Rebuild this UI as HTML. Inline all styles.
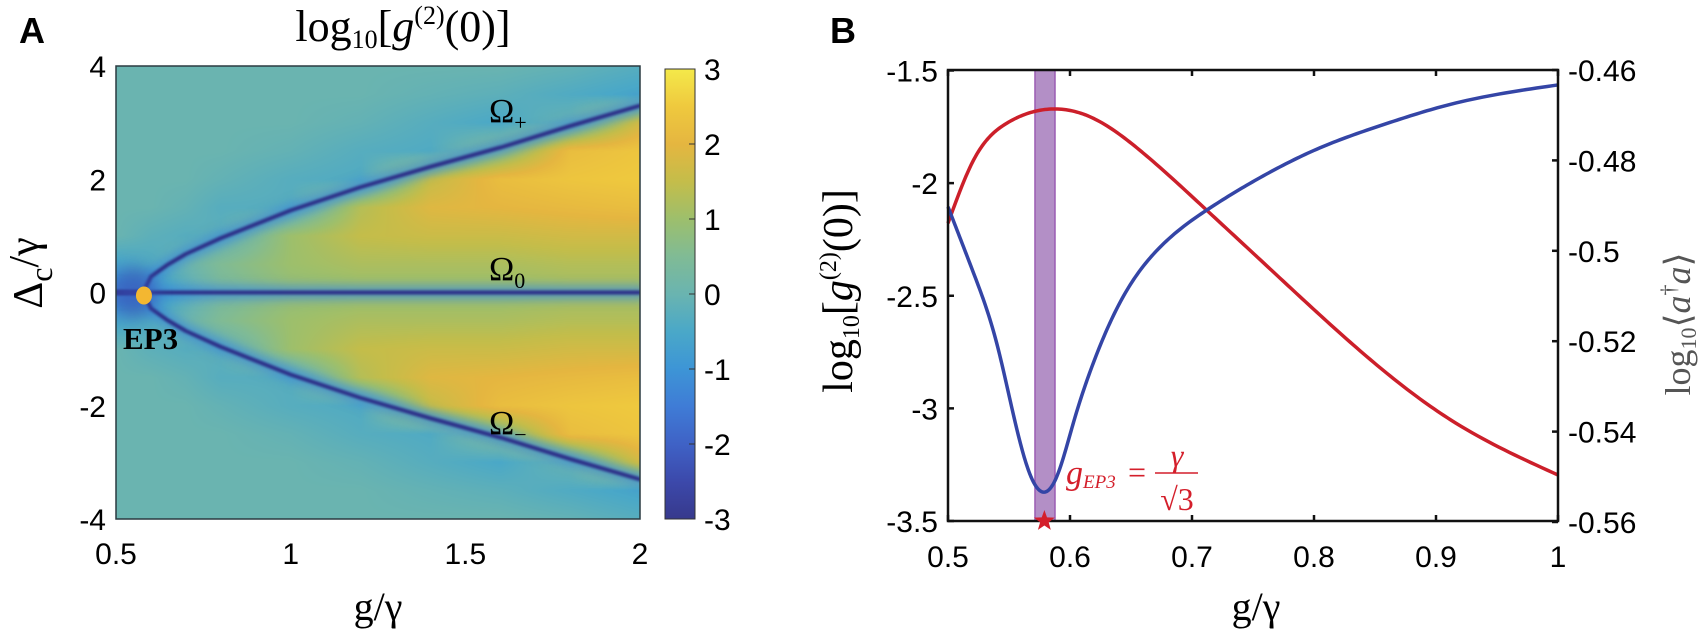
<!DOCTYPE html>
<html><head><meta charset="utf-8">
<style>
html,body{margin:0;padding:0;background:#fff;}
#wrap{position:relative;width:1705px;height:632px;overflow:hidden;}
#heat{position:absolute;left:116px;top:66px;}
svg{position:absolute;left:0;top:0;}
text{font-family:"Liberation Sans",sans-serif;}
.serif{font-family:"Liberation Serif",serif;}
</style></head>
<body>
<div id="wrap">
<canvas id="heat" width="524" height="453"></canvas>
<svg id="svg" width="1705" height="632">
  <defs>
    <linearGradient id="cbgrad" x1="0" y1="1" x2="0" y2="0"></linearGradient>
  </defs>
  <text x="19" y="43" font-size="36" font-weight="bold">A</text>
  <text class="serif" x="403" y="41" font-size="44" text-anchor="middle">log<tspan font-size="26" dy="7">10</tspan><tspan dy="-7">[</tspan><tspan font-style="italic">g</tspan><tspan font-size="26" dy="-17">(2)</tspan><tspan dy="17">(0)]</tspan></text>
  <rect x="116" y="66" width="524" height="453" fill="none" stroke="#2a3a40" stroke-width="1.5"/>
  <g id="axA"></g>
  <text class="serif" transform="translate(42,273) rotate(-90)" font-size="42" text-anchor="middle">Δ<tspan font-size="32" dy="10">c</tspan><tspan dy="-14">/γ</tspan></text>
  <text class="serif" x="378" y="620" font-size="40" text-anchor="middle">g/γ</text>
  <text class="serif" x="489" y="122" font-size="34">Ω<tspan font-size="22" dy="8">+</tspan></text>
  <text class="serif" x="489" y="280" font-size="34">Ω<tspan font-size="22" dy="8">0</tspan></text>
  <text class="serif" x="489" y="434" font-size="34">Ω<tspan font-size="22" dy="8">−</tspan></text>
  <ellipse id="epdot" cx="149" cy="296" rx="8" ry="9" fill="#f3b731"/>
  <text class="serif" x="123" y="349" font-size="31" font-weight="bold">EP3</text>
  <rect x="665" y="69" width="30" height="450" fill="url(#cbgrad)" stroke="#333" stroke-width="1"/>
  <g id="cbticks"></g>
  <text x="830" y="43" font-size="36" font-weight="bold">B</text>
  <rect id="band" x="1035" y="70" width="20" height="451" fill="#b38fc6" stroke="#9b5db3" stroke-width="1.5"/>
  <g id="axB"></g>
  <g id="linesB"></g>
  <rect x="948" y="70" width="610" height="451" fill="none" stroke="#111" stroke-width="2.5"/>
  <text class="serif" transform="translate(852,291) rotate(-90)" font-size="42" text-anchor="middle">log<tspan font-size="24" dy="7">10</tspan><tspan dy="-7">[</tspan><tspan font-style="italic">g</tspan><tspan font-size="24" dy="-16">(2)</tspan><tspan dy="16">(0)]</tspan></text>
  <text class="serif" transform="translate(1690,324) rotate(-90)" font-size="36" fill="#555" text-anchor="middle">log<tspan font-size="22" dy="6">10</tspan><tspan dy="-6">⟨</tspan><tspan font-style="italic">a</tspan><tspan font-size="22" dy="-14">†</tspan><tspan dy="14" font-style="italic">a</tspan>⟩</text>
  <text class="serif" x="1256" y="620" font-size="40" text-anchor="middle">g/γ</text>
  <g fill="#d41f2b">
    <text class="serif" x="1066" y="484" font-size="34" font-style="italic" fill="#d41f2b">g<tspan font-size="19" dy="4">EP3</tspan></text>
    <text class="serif" x="1128" y="483" font-size="32" fill="#d41f2b">=</text>
    <line x1="1155" y1="473" x2="1198" y2="473" stroke="#d41f2b" stroke-width="1.5"/>
    <text class="serif" x="1177" y="466" font-size="32" font-style="italic" text-anchor="middle" fill="#d41f2b">γ</text>
    <text class="serif" x="1177" y="510" font-size="32" text-anchor="middle" fill="#d41f2b">√3</text>
  </g>
  <polygon id="star" fill="#d41f2b"/>
</svg>
</div>
<script>
// ---------- Panel A data ----------
const gCols = [0.5,0.6,0.7,0.8,1.0,1.2,1.4,1.6,1.8,2.0];
const deltaRows = [0,0.5,1,1.5,2,2.5,3,3.5,4];
const row0   = [-1.4,-1.0,-0.3,0.3,0.8,0.9,0.9,0.9,1.0,1.0];
const row05  = [-0.6,-0.4,0.0,0.5,1.0,1.2,1.2,1.2,1.3,1.3];
const row1   = [0,-0.2,-0.3,-0.2,1.0,1.5,1.6,1.6,1.7,1.7];
const row15  = [0,0,-0.1,-0.3,-0.3,1.3,1.9,2.0,2.1,2.2];
const row2   = [0,0,0,-0.1,-0.3,-0.4,1.5,2.2,2.4,2.5];
const row25  = [0,0,0,0,-0.1,-0.3,-0.4,0.6,2.2,2.4];
const row3   = [0,0,0,0,0,-0.1,-0.3,-0.5,0.0,1.7];
const row35  = [0,0,0,0,0,0,-0.1,-0.2,-0.4,-0.6];
const row4   = [0,0,0,0,0,0,0,0,-0.1,-0.3];
const ridgeG = [0.577,0.6,0.65,0.7,0.8,1.0,1.2,1.4,1.6,1.8,2.0];
const ridgeOmega = [0,0.28,0.5,0.68,0.96,1.45,1.86,2.22,2.56,2.94,3.3];
const ep3G = 0.58;
const heatXTicks = [0.5,1,1.5,2];
const heatXTickLabels = ["0.5","1","1.5","2"];
const heatYTicks = [4,2,0,-2,-4];
const heatYTickLabels = ["4","2","0","-2","-4"];
const cbTicks = [3,2,1,0,-1,-2,-3];
const cbTickLabels = ["3","2","1","0","-1","-2","-3"];
const cmapVals = [-3,-2.5,-2,-1.5,-1,-0.5,0,0.5,1,1.5,2,2.5,3];
const cmapCols = ["#37398c","#3c49ab","#3f62c6","#3f7cd6","#3d95d6","#4aa8c8","#6ab4b0","#80bb95","#9dbf6c","#c4bd4a","#e5b640","#efc93e","#f4e94a"];

// ---------- Panel B data ----------
const blueG = [0.5,0.521,0.54,0.556,0.567,0.579,0.589,0.603,0.619,0.644,0.671,0.712,0.756,0.802,0.857,0.912,1.0];
const blueVal = [-2.105,-2.40,-2.712,-3.083,-3.29,-3.372,-3.305,-3.06,-2.80,-2.50,-2.30,-2.12,-1.975,-1.85,-1.74,-1.65,-1.564];
const redG = [0.5,0.521,0.548,0.581,0.616,0.657,0.712,0.756,0.802,0.857,0.912,1.0];
const redVal = [-0.4939,-0.4799,-0.4718,-0.4687,-0.4703,-0.4777,-0.491,-0.502,-0.5135,-0.5265,-0.5374,-0.5496];
const bXTicks = [0.5,0.6,0.7,0.8,0.9,1];
const bXTickLabels = ["0.5","0.6","0.7","0.8","0.9","1"];
const bLeftTicks = [-1.5,-2,-2.5,-3,-3.5];
const bLeftTickLabels = ["-1.5","-2","-2.5","-3","-3.5"];
const bRightTicks = [-0.46,-0.48,-0.5,-0.52,-0.54,-0.56];
const bRightTickLabels = ["-0.46","-0.48","-0.5","-0.52","-0.54","-0.56"];
const bandG = [0.5713,0.5877];
const starG = 0.579;

const NS = "http://www.w3.org/2000/svg";
function mk(tag, attrs, parent){const e=document.createElementNS(NS,tag);for(const k in attrs)e.setAttribute(k,attrs[k]);parent.appendChild(e);return e;}

const hx = g => 116 + (g-0.5)/1.5*524;
const hy = d => 66 + (4-d)/8*453;
const cy = v => 69 + (3-v)/6*450;

function hex(c){return [parseInt(c.substr(1,2),16),parseInt(c.substr(3,2),16),parseInt(c.substr(5,2),16)];}
const cmapRGB = cmapCols.map(hex);
function cmap(v){
  if(v<=cmapVals[0]) return cmapRGB[0];
  for(let i=0;i<cmapVals.length-1;i++){
    if(v<=cmapVals[i+1]){const t=(v-cmapVals[i])/(cmapVals[i+1]-cmapVals[i]);const a=cmapRGB[i],b=cmapRGB[i+1];return [a[0]+(b[0]-a[0])*t,a[1]+(b[1]-a[1])*t,a[2]+(b[2]-a[2])*t];}
  }
  return cmapRGB[cmapRGB.length-1];
}
const rows=[row0,row05,row1,row15,row2,row25,row3,row35,row4];
function idx(arr,v){let i=0;while(i<arr.length-2&&v>arr[i+1])i++;let t=(v-arr[i])/(arr[i+1]-arr[i]);t=Math.max(0,Math.min(1,t));return [i,t];}
function field(g,d){
  const [i,ti]=idx(gCols,g);const [j,tj]=idx(deltaRows,Math.abs(d));
  const a=rows[j][i]*(1-ti)+rows[j][i+1]*ti;
  const b=rows[j+1][i]*(1-ti)+rows[j+1][i+1]*ti;
  return a*(1-tj)+b*tj;
}
const cv=document.getElementById('heat');const ctx=cv.getContext('2d');
const img=ctx.createImageData(524,453);
for(let py=0;py<453;py++){const d=4-(py+0.5)/453*8;
  for(let px=0;px<524;px++){const g=0.5+(px+0.5)/524*1.5;const c=cmap(field(g,d));const k=(py*524+px)*4;
    img.data[k]=c[0];img.data[k+1]=c[1];img.data[k+2]=c[2];img.data[k+3]=255;}}
ctx.putImageData(img,0,0);
function ridgePath(sign){
  ctx.beginPath();
  ctx.moveTo(hx(0.5)-116,hy(0)-66);
  for(let i=0;i<ridgeG.length;i++) ctx.lineTo(hx(ridgeG[i])-116,hy(sign*ridgeOmega[i])-66);
}
function zeroPath(){ctx.beginPath();ctx.moveTo(0,hy(0)-66);ctx.lineTo(524,hy(0)-66);}
ctx.lineJoin='round';ctx.lineCap='round';
ctx.save();ctx.filter='blur(5px)';
[()=>ridgePath(1),()=>ridgePath(-1),zeroPath].forEach(f=>{f();ctx.strokeStyle='rgba(62,140,215,0.7)';ctx.lineWidth=14;ctx.stroke();});
ctx.restore();
ctx.save();ctx.filter='blur(1.2px)';
[()=>ridgePath(1),()=>ridgePath(-1),zeroPath].forEach(f=>{f();ctx.strokeStyle='#2d2f88';ctx.lineWidth=4;ctx.stroke();});
ctx.restore();
ctx.save();ctx.filter='blur(8px)';ctx.fillStyle='rgba(55,80,180,0.6)';ctx.beginPath();ctx.ellipse(hx(0.55)-116,hy(0)-66,22,26,0,0,Math.PI*2);ctx.fill();ctx.restore();

const epdot=document.getElementById('epdot');epdot.setAttribute('cx',hx(ep3G));epdot.setAttribute('cy',hy(0)+3);

const axA=document.getElementById('axA');
heatXTicks.forEach((g,i)=>{const t=mk('text',{x:hx(g),y:564,'font-size':30,'text-anchor':'middle'},axA);t.textContent=heatXTickLabels[i];
  
  });
heatYTicks.forEach((d,i)=>{const t=mk('text',{x:106,y:hy(d)+11,'font-size':30,'text-anchor':'end'},axA);t.textContent=heatYTickLabels[i];
  
  });
const grad=document.getElementById('cbgrad');
cmapVals.forEach((v,i)=>{mk('stop',{offset:((v+3)/6),'stop-color':cmapCols[i]},grad);});
const cbt=document.getElementById('cbticks');
cbTicks.forEach((v,i)=>{mk('line',{x1:689,x2:695,y1:cy(v),y2:cy(v),stroke:'#333','stroke-width':1},cbt);
  const t=mk('text',{x:704,y:cy(v)+11,'font-size':30},cbt);t.textContent=cbTickLabels[i];
  
  });

const bx = g => 948 + (g-0.5)/0.5*610;
const byL = v => 70.5 + (-1.5-v)/2*450.5;
const byR = v => 70 + (-0.46-v)/0.1*452;
const axB=document.getElementById('axB');
bXTicks.forEach((g,i)=>{
  mk('line',{x1:bx(g),x2:bx(g),y1:521,y2:515,stroke:'#111','stroke-width':2.5},axB);
  mk('line',{x1:bx(g),x2:bx(g),y1:70,y2:76,stroke:'#111','stroke-width':2.5},axB);
  const t=mk('text',{x:bx(g),y:567,'font-size':30,'text-anchor':'middle'},axB);t.textContent=bXTickLabels[i];
  
  });
bLeftTicks.forEach((v,i)=>{
  mk('line',{x1:948,x2:954,y1:byL(v),y2:byL(v),stroke:'#111','stroke-width':2.5},axB);
  const t=mk('text',{x:938,y:byL(v)+11,'font-size':30,'text-anchor':'end'},axB);t.textContent=bLeftTickLabels[i];
  
  });
bRightTicks.forEach((v,i)=>{
  mk('line',{x1:1552,x2:1558,y1:byR(v),y2:byR(v),stroke:'#111','stroke-width':2.5},axB);
  const t=mk('text',{x:1568,y:byR(v)+11,'font-size':30},axB);t.textContent=bRightTickLabels[i];
  
  });
const band=document.getElementById('band');band.setAttribute('x',bx(bandG[0]));band.setAttribute('width',bx(bandG[1])-bx(bandG[0]));

function splinePath(xs, ys, X, Y){
  const n=xs.length, h=[], al=[], l=[1], mu=[0], z=[0], c=new Array(n).fill(0), b=[], d=[];
  for(let i=0;i<n-1;i++) h.push(xs[i+1]-xs[i]);
  for(let i=1;i<n-1;i++) al[i]=3/h[i]*(ys[i+1]-ys[i])-3/h[i-1]*(ys[i]-ys[i-1]);
  for(let i=1;i<n-1;i++){l[i]=2*(xs[i+1]-xs[i-1])-h[i-1]*mu[i-1];mu[i]=h[i]/l[i];z[i]=(al[i]-h[i-1]*z[i-1])/l[i];}
  for(let j=n-2;j>=0;j--){
    c[j]= j>0 ? z[j]-mu[j]*c[j+1] : 0;
    b[j]=(ys[j+1]-ys[j])/h[j]-h[j]*(c[j+1]+2*c[j])/3;d[j]=(c[j+1]-c[j])/(3*h[j]);}
  let p='';
  for(let j=0;j<n-1;j++){
    for(let s=0;s<=20;s++){const t=h[j]*s/20;const x=xs[j]+t;const y=ys[j]+b[j]*t+c[j]*t*t+d[j]*t*t*t;
      p+=(p?' L':'M')+X(x).toFixed(2)+','+Y(y).toFixed(2);}
  }
  return p;
}
const lb=document.getElementById('linesB');
const redPath=mk('path',{d:splinePath(redG,redVal,bx,byR),fill:'none',stroke:'#cc1f2a','stroke-width':3.5,'stroke-linejoin':'round'},lb);


const bluePath=mk('path',{d:splinePath(blueG,blueVal,bx,byL),fill:'none',stroke:'#3445a6','stroke-width':3.5,'stroke-linejoin':'round'},lb);


const sx=bx(starG),sy=521,R=11,r=4.5;let sp=[];
for(let k=0;k<10;k++){const a=-Math.PI/2+k*Math.PI/5;const rr=k%2?r:R;sp.push((sx+rr*Math.cos(a)).toFixed(1)+','+(sy+rr*Math.sin(a)).toFixed(1));}
document.getElementById('star').setAttribute('points',sp.join(' '));
</script>
</body></html>
